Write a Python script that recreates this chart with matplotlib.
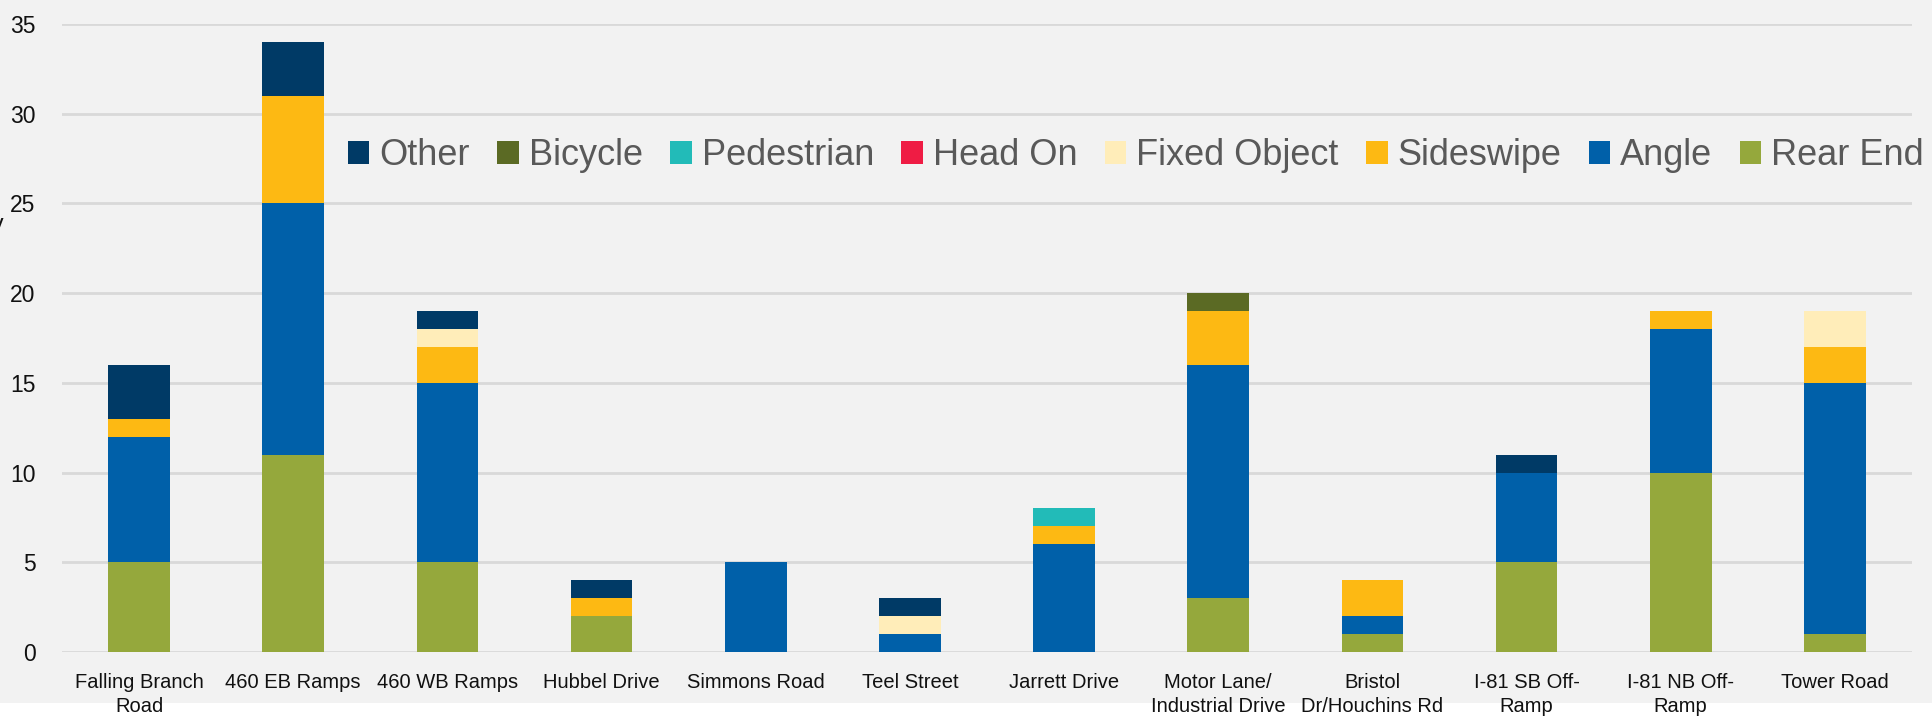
import matplotlib.pyplot as plt
import numpy as np
from matplotlib.patches import Rectangle

# data
locations = ['Falling Branch\nRoad', '460 EB Ramps', '460 WB Ramps', 'Hubbel Drive',
             'Simmons Road', 'Teel Street', 'Jarrett Drive', 'Motor Lane/\nIndustrial Drive',
             'Bristol\nDr/Houchins Rd', 'I-81 SB Off-\nRamp', 'I-81 NB Off-\nRamp', 'Tower Road']
rear_end     = [5, 11, 5, 2, 0, 0, 0, 3, 1, 5, 10, 1]
angle        = [7, 14, 10, 0, 5, 1, 6, 13, 1, 5, 8, 14]
sideswipe    = [1, 6, 2, 1, 0, 0, 1, 3, 2, 0, 1, 2]
fixed_object = [0, 0, 1, 0, 0, 1, 0, 0, 0, 0, 0, 2]
head_on      = [0, 0, 0, 0, 0, 0, 0, 0, 0, 0, 0, 0]
pedestrian   = [0, 0, 0, 0, 0, 0, 1, 0, 0, 0, 0, 0]
bicycle      = [0, 0, 0, 0, 0, 0, 0, 1, 0, 0, 0, 0]
other        = [3, 3, 1, 1, 0, 1, 0, 0, 0, 1, 0, 0]

series = [
    ('Rear End', rear_end, '#95A83C'),
    ('Angle', angle, '#0060A9'),
    ('Sideswipe', sideswipe, '#FDB913'),
    ('Fixed Object', fixed_object, '#FFEDB9'),
    ('Head On', head_on, '#EF1C44'),
    ('Pedestrian', pedestrian, '#22BBB8'),
    ('Bicycle', bicycle, '#5B6A24'),
    ('Other', other, '#003A66'),
]

plt.rcParams['font.family'] = ['Liberation Sans', 'DejaVu Sans']

W, H = 1933, 721
fig = plt.figure(figsize=(W / 100, H / 100), dpi=100, facecolor='white')
fig.patches.append(Rectangle((0, 18 / H), 1, 1, transform=fig.transFigure,
                             facecolor='#F2F2F2', edgecolor='none', zorder=-10))

ax = fig.add_axes([62 / W, (H - 652) / H, 1850 / W, (652 - 24) / H])
ax.set_facecolor('#F2F2F2')

x = np.arange(len(locations))
bottom = np.zeros(len(locations))
handles = {}
for name, vals, col in series:
    vals = np.array(vals, dtype=float)
    b = ax.bar(x, vals, 0.4, bottom=bottom, color=col, label=name, zorder=3, linewidth=0)
    handles[name] = b
    bottom += vals

ax.set_xlim(-0.5, len(locations) - 0.5)
ax.set_ylim(0, 35)
ax.set_yticks(range(0, 36, 5))
ax.yaxis.grid(True, color='#D9D9D9', linewidth=2, zorder=0)
ax.set_axisbelow(True)
for s in ax.spines.values():
    s.set_visible(False)
ax.tick_params(axis='both', length=0)
ax.tick_params(axis='y', labelsize=16.5, pad=19, labelcolor='#111111')
ax.set_xticks(x)
ax.set_xticklabels(locations, fontsize=14.5, color='#111111', linespacing=1.35)
ax.tick_params(axis='x', pad=15)

order = ['Other', 'Bicycle', 'Pedestrian', 'Head On', 'Fixed Object', 'Sideswipe', 'Angle', 'Rear End']
leg = ax.legend([handles[n] for n in order], order, ncol=8, loc='center right',
                bbox_to_anchor=(1.0065, 0.79), frameon=False, fontsize=26,
                handlelength=0.6, handleheight=0.6, handletextpad=0.28,
                columnspacing=0.75, borderpad=0, borderaxespad=0)
for t in leg.get_texts():
    t.set_color('#595959')

# axis title clipped at the left edge (only the tail of the last letter shows)
fig.text(4 / W, (H - 231) / H, 'Frequency', ha='right', va='baseline',
         fontsize=17, color='#111111')

fig.savefig('out.png', dpi=100, facecolor=fig.get_facecolor())
